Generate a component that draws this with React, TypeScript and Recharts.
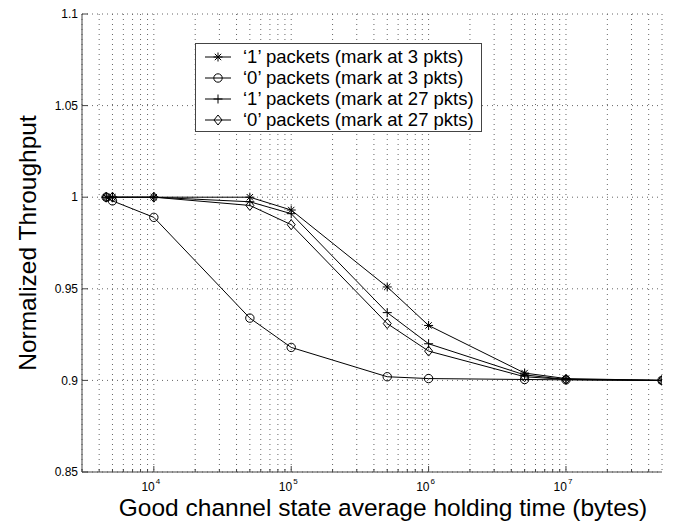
import React from "react";
import { LineChart, Line, XAxis, YAxis, CartesianGrid, Legend } from "recharts";

// Holding time (bytes) at which each run was measured
const HOLDING_TIME = [4500, 5000, 1e4, 5e4, 1e5, 5e5, 1e6, 5e6, 1e7, 5e7];

// Normalized throughput for each traffic class / marking threshold
const ONE_MARK3 = [1, 1, 1, 1, 0.993, 0.951, 0.93, 0.904, 0.901, 0.9];
const ZERO_MARK3 = [1, 0.998, 0.989, 0.934, 0.918, 0.902, 0.901, 0.9005, 0.9003, 0.9];
const ONE_MARK27 = [1, 1, 1, 0.9975, 0.991, 0.937, 0.92, 0.903, 0.9005, 0.9];
const ZERO_MARK27 = [1, 1, 1, 0.9955, 0.985, 0.931, 0.916, 0.902, 0.9005, 0.9];

const SERIES_NAMES = [
  "\u20181\u2019 packets (mark at 3 pkts)",
  "\u20180\u2019 packets (mark at 3 pkts)",
  "\u20181\u2019 packets (mark at 27 pkts)",
  "\u20180\u2019 packets (mark at 27 pkts)",
];

// Log axis: labelled decades plus the minor ticks in between
const DECADES = [1e4, 1e5, 1e6, 1e7];
const DECADE_EXPONENTS = ["4", "5", "6", "7"];
const X_TICKS = [
  3000, 4000, 5000, 6000, 7000, 8000, 9000,
  1e4, 2e4, 3e4, 4e4, 5e4, 6e4, 7e4, 8e4, 9e4,
  1e5, 2e5, 3e5, 4e5, 5e5, 6e5, 7e5, 8e5, 9e5,
  1e6, 2e6, 3e6, 4e6, 5e6, 6e6, 7e6, 8e6, 9e6,
  1e7, 2e7, 3e7, 4e7,
];
const X_DOMAIN = [3000, 5e7];

const Y_TICKS = [0.85, 0.9, 0.95, 1, 1.05, 1.1];
const Y_DOMAIN = [0.85, 1.1];

const FONT = "'Liberation Sans', Arial, Helvetica, sans-serif";
const INK = "#000";
const FRAME = "#444";

type Shape = "star" | "circle" | "plus" | "diamond";

const SERIES: { key: string; shape: Shape; values: number[] }[] = [
  { key: "one3", shape: "star", values: ONE_MARK3 },
  { key: "zero3", shape: "circle", values: ZERO_MARK3 },
  { key: "one27", shape: "plus", values: ONE_MARK27 },
  { key: "zero27", shape: "diamond", values: ZERO_MARK27 },
];

const data = HOLDING_TIME.map((x, i) => {
  const row: Record<string, number> = { x };
  for (const s of SERIES) row[s.key] = s.values[i];
  return row;
});

function Marker({ shape, cx, cy }: { shape: Shape; cx: number; cy: number }) {
  const p = { stroke: INK, strokeWidth: 1, fill: "none" };
  if (shape === "circle") return <circle cx={cx} cy={cy} r={4.2} {...p} />;
  if (shape === "diamond")
    return (
      <path
        d={`M${cx},${cy - 5}L${cx + 4},${cy}L${cx},${cy + 5}L${cx - 4},${cy}Z`}
        {...p}
      />
    );
  if (shape === "plus")
    return (
      <path d={`M${cx - 4.5},${cy}H${cx + 4.5}M${cx},${cy - 4.5}V${cy + 4.5}`} {...p} />
    );
  const d = 3.2;
  return (
    <path
      d={`M${cx - 4.5},${cy}H${cx + 4.5}M${cx},${cy - 4.5}V${cy + 4.5}M${cx - d},${cy - d}L${cx + d},${cy + d}M${cx - d},${cy + d}L${cx + d},${cy - d}`}
      {...p}
    />
  );
}

function makeDot(shape: Shape) {
  return (props: any) => {
    const { cx, cy, index } = props;
    if (cx == null || cy == null) return <g key={`${shape}-${index}`} />;
    return (
      <g key={`${shape}-${index}`}>
        <Marker shape={shape} cx={cx} cy={cy} />
      </g>
    );
  };
}

// Tick marks point inward, as on a boxed plot; decades get 10^n labels
function BottomTick(props: any) {
  const { x, y, payload } = props;
  const i = DECADES.indexOf(payload.value);
  const len = i >= 0 ? 6 : 3;
  return (
    <g>
      <line x1={x} x2={x} y1={y} y2={y - len} stroke={FRAME} />
      {i >= 0 && (
        <text x={x - 3} y={y + 19} textAnchor="middle" fontFamily={FONT} fontSize={12} fill={INK}>
          10
          <tspan dx={1} dy={-7} fontSize={8}>
            {DECADE_EXPONENTS[i]}
          </tspan>
        </text>
      )}
    </g>
  );
}

function TopTick(props: any) {
  const { x, y, payload } = props;
  const len = DECADES.includes(payload.value) ? 6 : 3;
  return <line x1={x} x2={x} y1={y} y2={y + len} stroke={FRAME} />;
}

function LeftTick(props: any) {
  const { x, y, payload } = props;
  return (
    <g>
      <line x1={x} x2={x + 6} y1={y} y2={y} stroke={FRAME} />
      <text x={x - 4} y={y} dy="0.35em" textAnchor="end" fontFamily={FONT} fontSize={12} fill={INK}>
        {String(payload.value)}
      </text>
    </g>
  );
}

function RightTick(props: any) {
  const { x, y } = props;
  return <line x1={x} x2={x - 6} y1={y} y2={y} stroke={FRAME} />;
}

function LegendBox() {
  return (
    <div
      style={{
        width: 287,
        height: 89,
        boxSizing: "border-box",
        border: `1px solid ${FRAME}`,
        background: "#fff",
      }}
    >
      <svg width={285} height={87} style={{ display: "block" }}>
        {SERIES.map((s, i) => {
          const y = 13 + i * 21;
          return (
            <g key={s.key}>
              <line x1={9} x2={35} y1={y} y2={y} stroke={INK} />
              <Marker shape={s.shape} cx={22} cy={y} />
              <text x={47} y={y} dy="0.35em" fontFamily={FONT} fontSize={18.5} fill={INK}>
                {SERIES_NAMES[i]}
              </text>
            </g>
          );
        })}
      </svg>
    </div>
  );
}

export default function App() {
  return (
    <div style={{ position: "absolute", left: 0, top: 0, width: 680, height: 522, background: "#fff" }}>
      <LineChart
        width={680}
        height={522}
        data={data}
        margin={{ top: 14, right: 18, bottom: 0, left: 0 }}
      >
        <CartesianGrid stroke="#666" strokeDasharray="1 4" />
        <XAxis
          dataKey="x"
          type="number"
          scale="log"
          domain={X_DOMAIN}
          ticks={X_TICKS}
          interval={0}
          allowDataOverflow
          height={50}
          tickSize={0}
          tickMargin={0}
          tickLine={false}
          axisLine={{ stroke: FRAME }}
          tick={<BottomTick />}
          label={{
            value: "Good channel state average holding time (bytes)",
            position: "insideBottom",
            offset: 6,
            dx: 11,
            style: { fontFamily: FONT, fontSize: 24.5, fill: INK },
          }}
        />
        <XAxis
          xAxisId="top"
          orientation="top"
          dataKey="x"
          type="number"
          scale="log"
          domain={X_DOMAIN}
          ticks={X_TICKS}
          interval={0}
          allowDataOverflow
          height={0}
          tickSize={0}
          tickMargin={0}
          tickLine={false}
          axisLine={{ stroke: FRAME }}
          tick={<TopTick />}
        />
        <YAxis
          type="number"
          domain={Y_DOMAIN}
          ticks={Y_TICKS}
          interval={0}
          width={82}
          tickSize={0}
          tickMargin={0}
          tickLine={false}
          axisLine={{ stroke: FRAME }}
          tick={<LeftTick />}
          label={{
            value: "Normalized Throughput",
            angle: -90,
            position: "insideLeft",
            offset: 27,
            style: { fontFamily: FONT, fontSize: 24.5, fill: INK, textAnchor: "middle" },
          }}
        />
        <YAxis
          yAxisId="right"
          orientation="right"
          type="number"
          domain={Y_DOMAIN}
          ticks={Y_TICKS}
          interval={0}
          width={0}
          tickSize={0}
          tickMargin={0}
          tickLine={false}
          axisLine={{ stroke: FRAME }}
          tick={<RightTick />}
        />
        <Legend
          layout="vertical"
          align="center"
          verticalAlign="middle"
          content={<LegendBox />}
          wrapperStyle={{ left: 195, top: 43, width: 287, height: 89 }}
        />
        {SERIES.map((s, i) => (
          <Line
            key={s.key}
            dataKey={s.key}
            name={SERIES_NAMES[i]}
            type="linear"
            stroke={INK}
            strokeWidth={1}
            dot={makeDot(s.shape)}
            activeDot={false}
            isAnimationActive={false}
          />
        ))}
      </LineChart>
    </div>
  );
}
